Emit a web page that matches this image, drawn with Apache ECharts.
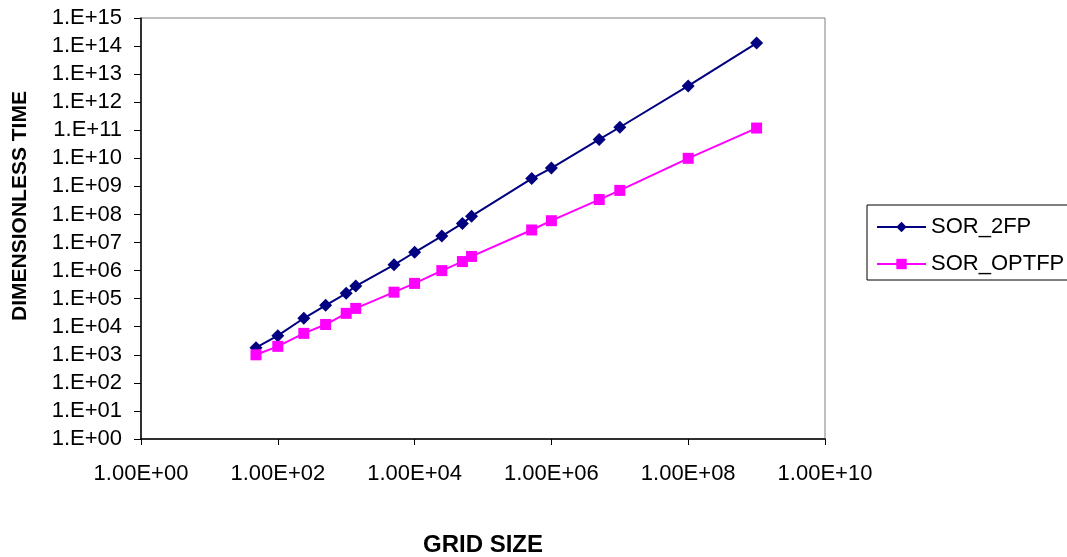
<!DOCTYPE html>
<html>
<head>
<meta charset="utf-8">
<script src="https://cdn.jsdelivr.net/npm/echarts@6/dist/echarts.min.js"></script>
<style>
html,body{margin:0;padding:0;background:#fff;}
#chart{width:1067px;height:557px;}
</style>
</head>
<body>
<div id="chart"></div>
<script>
// Data
var gridSize = [48, 100, 240, 500, 1000, 1380, 5000, 10000, 25000, 50000, 68000, 515000, 1000000, 5000000, 10000000, 100000000, 1000000000];
var sor2fp = [1.8e3, 4.8e3, 2.0e4, 5.8e4, 1.55e5, 2.8e5, 1.6e6, 4.5e6, 1.7e7, 4.8e7, 8.7e7, 1.9e9, 4.5e9, 4.7e10, 1.28e11, 3.8e12, 1.28e14];
var sorOptfp = [1.0e3, 2.0e3, 5.8e3, 1.2e4, 3.0e4, 4.5e4, 1.7e5, 3.5e5, 1.0e6, 2.1e6, 3.2e6, 2.8e7, 6.0e7, 3.4e8, 7.2e8, 1.0e10, 1.2e11];
var seriesNames = ['SOR_2FP', 'SOR_OPTFP'];
var xTitle = 'GRID SIZE';
var yTitle = 'DIMENSIONLESS TIME';

function pairs(xs, ys) { return xs.map(function (x, i) { return [x, ys[i]]; }); }
function pad2(n) { return (n < 10 ? '0' : '') + n; }
function expOf(v) { return Math.round(Math.log(v) / Math.LN10); }

var FONT = '"Liberation Sans", Arial, sans-serif';
var chart = echarts.init(document.getElementById('chart'), null, { renderer: 'canvas' });
chart.setOption({
  backgroundColor: '#ffffff',
  animation: false,
  grid: {
    left: 141, top: 18, width: 684, height: 421,
    containLabel: false, outerBoundsMode: 'none',
    show: true, borderColor: '#808080', borderWidth: 1, backgroundColor: 'transparent'
  },
  graphic: [{
    type: 'text',
    x: 20, y: 206,
    rotation: Math.PI / 2,
    style: {
      text: yTitle,
      font: 'bold 21px ' + FONT,
      fill: '#000',
      textAlign: 'center',
      textVerticalAlign: 'middle'
    }
  }],
  legend: {
    orient: 'vertical',
    left: 867, top: 205,
    data: seriesNames,
    itemWidth: 49, itemHeight: 13, itemGap: 15,
    padding: [11, 30, 5, 9],
    borderColor: '#000000', borderWidth: 1,
    textStyle: { fontFamily: FONT, fontSize: 22, color: '#000', lineHeight: 22 }
  },
  xAxis: {
    type: 'log', logBase: 10, min: 1, max: 1e10, interval: 2,
    name: xTitle, nameLocation: 'middle', nameGap: 94,
    nameTextStyle: { fontFamily: FONT, fontSize: 24, fontWeight: 'bold', color: '#000' },
    axisLine: { show: true, onZero: false, lineStyle: { color: '#000', width: 1.5 } },
    axisTick: { show: true, length: 6, inside: false, lineStyle: { color: '#000', width: 1 } },
    minorTick: { show: false },
    splitLine: { show: false },
    axisLabel: {
      margin: 24, fontFamily: FONT, fontSize: 22, color: '#000',
      formatter: function (v) { return '1.00E+' + pad2(expOf(v)); }
    }
  },
  yAxis: {
    type: 'log', logBase: 10, min: 1, max: 1e15, interval: 1,
    axisLine: { show: true, onZero: false, lineStyle: { color: '#000', width: 1.5 } },
    axisTick: { show: true, length: 7, inside: false, lineStyle: { color: '#000', width: 1 } },
    splitLine: { show: false },
    axisLabel: {
      margin: 19, fontFamily: FONT, fontSize: 22, color: '#000',
      formatter: function (v) { return '1.E+' + pad2(expOf(v)); }
    }
  },
  series: [
    {
      name: seriesNames[0], type: 'line', data: pairs(gridSize, sor2fp),
      symbol: 'diamond', symbolSize: 13, showAllSymbol: true,
      lineStyle: { color: '#000080', width: 2 },
      itemStyle: { color: '#000080', borderWidth: 0 },
      color: '#000080'
    },
    {
      name: seriesNames[1], type: 'line', data: pairs(gridSize, sorOptfp),
      symbol: 'rect', symbolSize: 11, showAllSymbol: true,
      lineStyle: { color: '#FF00FF', width: 2 },
      itemStyle: { color: '#FF00FF', borderWidth: 0 },
      color: '#FF00FF'
    }
  ]
});
</script>
</body>
</html>
